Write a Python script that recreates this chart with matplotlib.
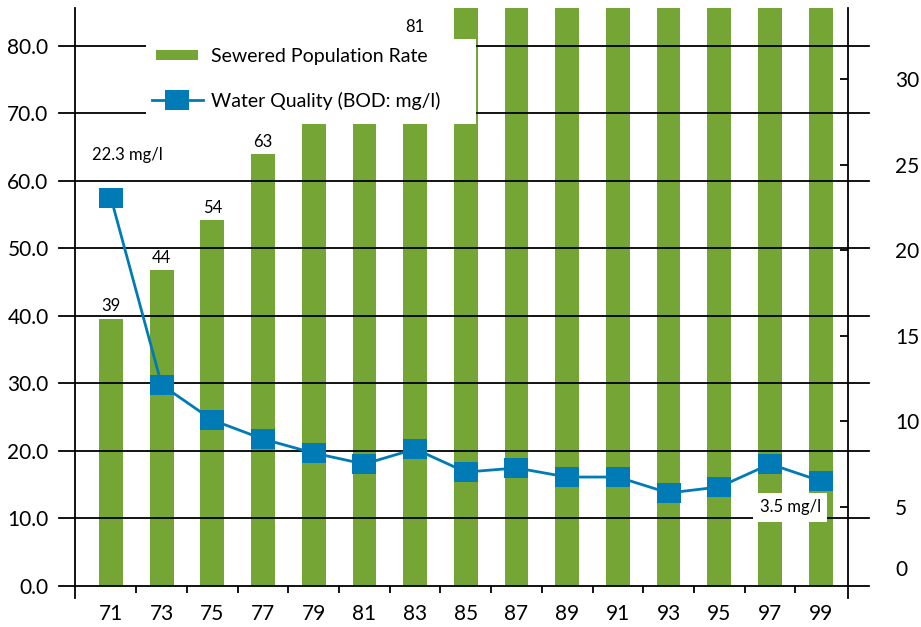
import matplotlib
matplotlib.use('Agg')
import numpy as np
import matplotlib.pyplot as plt
from matplotlib.lines import Line2D
from matplotlib.patches import Rectangle

years = ['71', '73', '75', '77', '79', '81', '83', '85',
         '87', '89', '91', '93', '95', '97', '99']
# sewered population rate (%), left axis; bars from 85 on run past the top
sewered_rate = [39.6, 46.8, 54.2, 64.0, 72, 76, 81, 86,
                89, 92, 95, 98, 100, 100, 100]
# labels for 79 and 81 sit behind the legend panel in the original
rate_labels = ['39', '44', '54', '63', '', '', '81', '',
               '', '', '', '', '', '', '']
# BOD (mg/l), right axis
bod = [23.05, 12.13, 10.08, 8.97, 8.15, 7.51, 8.39, 7.04,
       7.28, 6.75, 6.75, 5.82, 6.17, 7.51, 6.52]
left_ticks = [0, 10, 20, 30, 40, 50, 60, 70, 80]
right_ticks = [5, 10, 15, 20, 25, 30]

GREEN = '#74a535'
BLUE = '#007bb6'

plt.rcParams['font.family'] = ['Lato', 'DejaVu Sans']

W, H = 921, 627
fig = plt.figure(figsize=(W / 100, H / 100), dpi=100)
ax = fig.add_axes([75 / W, (H - 586) / H, (848 - 75) / W, (586 - 8) / H])
ax2 = ax.twinx()

x = np.arange(len(years))
ax.bar(x, sewered_rate, width=0.47, color=GREEN, zorder=2)
ax.set_xlim(-0.71, 14.54)
ax.set_ylim(0, 85.6)

# horizontal rules, running a little past both axis lines
for v in left_ticks:
    ax.axhline(v, xmin=-0.0207, xmax=1.027, color='black', lw=1.3,
               clip_on=False, zorder=3)

for s in ax.spines.values():
    s.set_visible(False)
for s in ax2.spines.values():
    s.set_visible(False)
for xx in (0, 1):
    ax.plot([xx, xx], [-0.021, 1.0], transform=ax.transAxes, color='black',
            lw=1.3, clip_on=False, zorder=3)

ax.set_yticks(left_ticks)
ax.set_yticklabels([f'{v:.1f}' for v in left_ticks])
ax.tick_params(axis='y', length=0, pad=19, labelsize=15)

ax.set_xticks(x)
ax.set_xticklabels(years)
ax.set_xticks(x[:-1] + 0.5, minor=True)
ax.tick_params(axis='x', which='major', length=0, pad=13, labelsize=15)
ax.tick_params(axis='x', which='minor', length=5, width=1.3, direction='out')

for i, lab in enumerate(rate_labels):
    if lab:
        ax.annotate(lab, (x[i], sewered_rate[i]), xytext=(0, 3),
                    textcoords='offset points', ha='center', va='bottom',
                    fontsize=12, zorder=3)

# white legend panel over the bars
ax.add_patch(Rectangle((146 / W, (H - 124) / H), 330 / W, 85 / H,
                       transform=fig.transFigure, facecolor='white',
                       edgecolor='none', zorder=4, clip_on=False))

box = [(-1.2, -1), (1.2, -1), (1.2, 1), (-1.2, 1), (-1.2, -1)]
ax2.plot(x, bod, color=BLUE, lw=2, marker=box, markersize=17.3,
         markeredgewidth=0, zorder=5)
ax2.set_ylim(0.385, 34.15)
ax2.set_yticks(right_ticks)
ax2.set_yticklabels([str(v) for v in right_ticks])
ax2.tick_params(axis='y', direction='in', length=5.8, width=1.3, pad=34,
                labelsize=15)
fig.text(895 / W, (H - 570) / H, '0', ha='left', va='center', fontsize=15)

ax2.annotate('22.3 mg/l', (x[0], bod[0]), xytext=(12, 31),
             textcoords='offset points', ha='center', va='center', fontsize=12)
ax2.annotate('3.5 mg/l', (x[-1], bod[-1]), xytext=(-22, -19),
             textcoords='offset points', ha='center', va='center', fontsize=12,
             bbox=dict(boxstyle='square,pad=0.4', fc='white', ec='none'))

# legend: short wide bar swatch, line with square marker
swatch = [(-1, -0.22), (1, -0.22), (1, 0.22), (-1, 0.22), (-1, -0.22)]
handles = [Line2D([], [], ls='none', marker=swatch, markersize=30,
                  markeredgewidth=0, color=GREEN),
           Line2D([], [], color=BLUE, lw=2, marker=box, markersize=17.3,
                  markeredgewidth=0)]
leg = ax.legend(handles, ['Sewered Population Rate', 'Water Quality (BOD: mg/l)'],
                loc='upper left', bbox_to_anchor=(152 / W, (H - 48) / H),
                bbox_transform=fig.transFigure, frameon=False, fontsize=14,
                handlelength=2.6, handletextpad=0.45, labelspacing=1.4,
                borderpad=0, borderaxespad=0)
leg.set_zorder(6)

fig.savefig('out.png', dpi=100)
